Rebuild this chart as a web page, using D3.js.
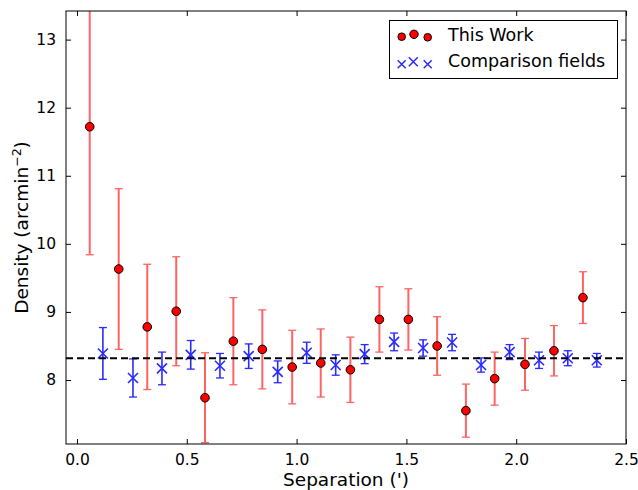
<!DOCTYPE html>
<html><head><meta charset="utf-8">
<script src="https://cdn.jsdelivr.net/npm/d3@7"></script>
<style>body{margin:0;background:#fff}svg{display:block}text{font-family:"DejaVu Sans",sans-serif;fill:#000}</style>
</head><body><svg id="c" width="638" height="490"></svg>
<script>
// ---- data ----
const workSep = [0.058,0.19,0.32,0.452,0.583,0.712,0.844,0.98,1.11,1.245,1.377,1.509,1.64,1.771,1.902,2.04,2.172,2.304];
const workDensity = [11.72,9.63,8.78,9.01,7.74,8.57,8.45,8.19,8.25,8.15,8.89,8.89,8.50,7.55,8.02,8.23,8.43,9.21];
const workErr = [1.88,1.18,0.92,0.80,0.66,0.64,0.58,0.54,0.50,0.48,0.48,0.45,0.43,0.39,0.39,0.38,0.37,0.38];
const compSep = [0.118,0.255,0.387,0.518,0.651,0.782,0.914,1.046,1.178,1.31,1.444,1.576,1.708,1.84,1.97,2.104,2.235,2.367];
const compDensity = [8.39,8.03,8.17,8.37,8.21,8.35,8.12,8.40,8.22,8.38,8.56,8.47,8.55,8.22,8.41,8.29,8.32,8.29];
const compErr = [0.38,0.28,0.24,0.21,0.18,0.18,0.16,0.155,0.15,0.14,0.13,0.12,0.12,0.105,0.11,0.12,0.11,0.10];
const meanLevel = 8.32;
const xTicks = [0.0,0.5,1.0,1.5,2.0,2.5];
const yTicks = [8,9,10,11,12,13];
const xLabel = "Separation (')";
const yLabel = ["Density (arcmin", "\u22122", ")"];
const legendLabels = ["This Work", "Comparison fields"];

// ---- layout ----
const L=66, R=626, T=11, B=444;
const svg=d3.select("#c");
const x=d3.scaleLinear().domain([-0.05,2.5]).range([L,R]);
const y=d3.scaleLinear().domain([7.06,13.42]).range([B,T]);

svg.append("defs").append("clipPath").attr("id","clip")
  .append("rect").attr("x",L).attr("y",T).attr("width",R-L).attr("height",B-T);

const work=workSep.map((s,i)=>({s,v:workDensity[i],e:workErr[i]}));
const comp=compSep.map((s,i)=>({s,v:compDensity[i],e:compErr[i]}));

const plot=svg.append("g").attr("clip-path","url(#clip)");

function errorbars(data,color,width,cap){
  const g=plot.append("g").attr("stroke",color).attr("stroke-width",width).attr("fill","none");
  const eb=g.selectAll("g").data(data).join("g");
  eb.append("line").attr("x1",d=>x(d.s)).attr("x2",d=>x(d.s)).attr("y1",d=>y(d.v-d.e)).attr("y2",d=>y(d.v+d.e));
  eb.append("line").attr("x1",d=>x(d.s)-cap).attr("x2",d=>x(d.s)+cap).attr("y1",d=>y(d.v+d.e)).attr("y2",d=>y(d.v+d.e)).attr("stroke-width",1.3);
  eb.append("line").attr("x1",d=>x(d.s)-cap).attr("x2",d=>x(d.s)+cap).attr("y1",d=>y(d.v-d.e)).attr("y2",d=>y(d.v-d.e)).attr("stroke-width",1.3);
}
errorbars(work,"#ff6464",2,4);
errorbars(comp,"#2a2aff",1.6,4);

// blue x markers
const xs=5;
plot.append("g").attr("stroke","#2a2aff").attr("stroke-width",1.6)
  .selectAll("path").data(comp).join("path")
  .attr("d",d=>`M${x(d.s)-xs},${y(d.v)-xs}L${x(d.s)+xs},${y(d.v)+xs}M${x(d.s)-xs},${y(d.v)+xs}L${x(d.s)+xs},${y(d.v)-xs}`);

// dashed mean line
plot.append("line").attr("x1",L).attr("x2",R).attr("y1",y(meanLevel)).attr("y2",y(meanLevel))
  .attr("stroke","#000").attr("stroke-width",2).attr("stroke-dasharray","7,4");

// red circles
plot.append("g").selectAll("circle").data(work).join("circle")
  .attr("cx",d=>x(d.s)).attr("cy",d=>y(d.v)).attr("r",4.3)
  .attr("fill","#ff0000").attr("stroke","#000").attr("stroke-width",1);

// axes
const tl=5;
const ax=svg.append("g").attr("font-size",15.5);
ax.append("g").attr("transform",`translate(0,${B})`)
  .call(d3.axisBottom(x).tickValues(xTicks).tickFormat(d3.format(".1f")).tickSizeInner(-tl).tickSizeOuter(0).tickPadding(10))
  .call(g=>{g.select(".domain").remove();g.selectAll("text").attr("font-family","DejaVu Sans").attr("font-size",15.5);});
ax.append("g").attr("transform",`translate(0,${T})`)
  .call(d3.axisTop(x).tickValues(xTicks).tickFormat("").tickSizeInner(-tl).tickSizeOuter(0))
  .call(g=>g.select(".domain").remove());
ax.append("g").attr("transform",`translate(${L},0)`)
  .call(d3.axisLeft(y).tickValues(yTicks).tickFormat(d3.format("d")).tickSizeInner(-tl).tickSizeOuter(0).tickPadding(10))
  .call(g=>{g.select(".domain").remove();g.selectAll("text").attr("font-family","DejaVu Sans").attr("font-size",15.5);});
ax.append("g").attr("transform",`translate(${R},0)`)
  .call(d3.axisRight(y).tickValues(yTicks).tickFormat("").tickSizeInner(-tl).tickSizeOuter(0))
  .call(g=>g.select(".domain").remove());
ax.selectAll(".tick line").attr("stroke","#000");

svg.append("rect").attr("x",L).attr("y",T).attr("width",R-L).attr("height",B-T)
  .attr("fill","none").attr("stroke","#000").attr("stroke-width",1);

// axis labels
svg.append("text").attr("x",(L+R)/2).attr("y",486).attr("text-anchor","middle").attr("font-size",18.5).text(xLabel);
const yl=svg.append("text").attr("transform",`translate(28,${(T+B)/2}) rotate(-90)`).attr("text-anchor","middle").attr("font-size",18.5);
yl.append("tspan").text(yLabel[0]);
yl.append("tspan").attr("font-size",12.5).attr("dy",-7).text(yLabel[1]);
yl.append("tspan").attr("dy",7).text(yLabel[2]);

// legend
const lg=svg.append("g");
lg.append("rect").attr("x",389.5).attr("y",20.5).attr("width",228).attr("height",58)
  .attr("fill","#fff").attr("stroke","#000").attr("stroke-width",1);
const dots=[[401.7,36.7,3.8],[414,34.3,4.2],[427.7,37.3,3.8]];
lg.selectAll("circle").data(dots).join("circle").attr("cx",d=>d[0]).attr("cy",d=>d[1]).attr("r",d=>d[2])
  .attr("fill","#ff0000").attr("stroke","#000").attr("stroke-width",1);
const crosses=[[401.7,64.3,4],[413.3,61.7,4.5],[427.7,64.3,4]];
lg.selectAll("path").data(crosses).join("path").attr("stroke","#2a2aff").attr("stroke-width",1.5)
  .attr("d",d=>`M${d[0]-d[2]},${d[1]-d[2]}L${d[0]+d[2]},${d[1]+d[2]}M${d[0]-d[2]},${d[1]+d[2]}L${d[0]+d[2]},${d[1]-d[2]}`);
lg.selectAll("text").data(legendLabels).join("text").attr("x",448).attr("y",(d,i)=>41+i*26.3)
  .attr("font-size",17.5).text(d=>d);
</script></body></html>
